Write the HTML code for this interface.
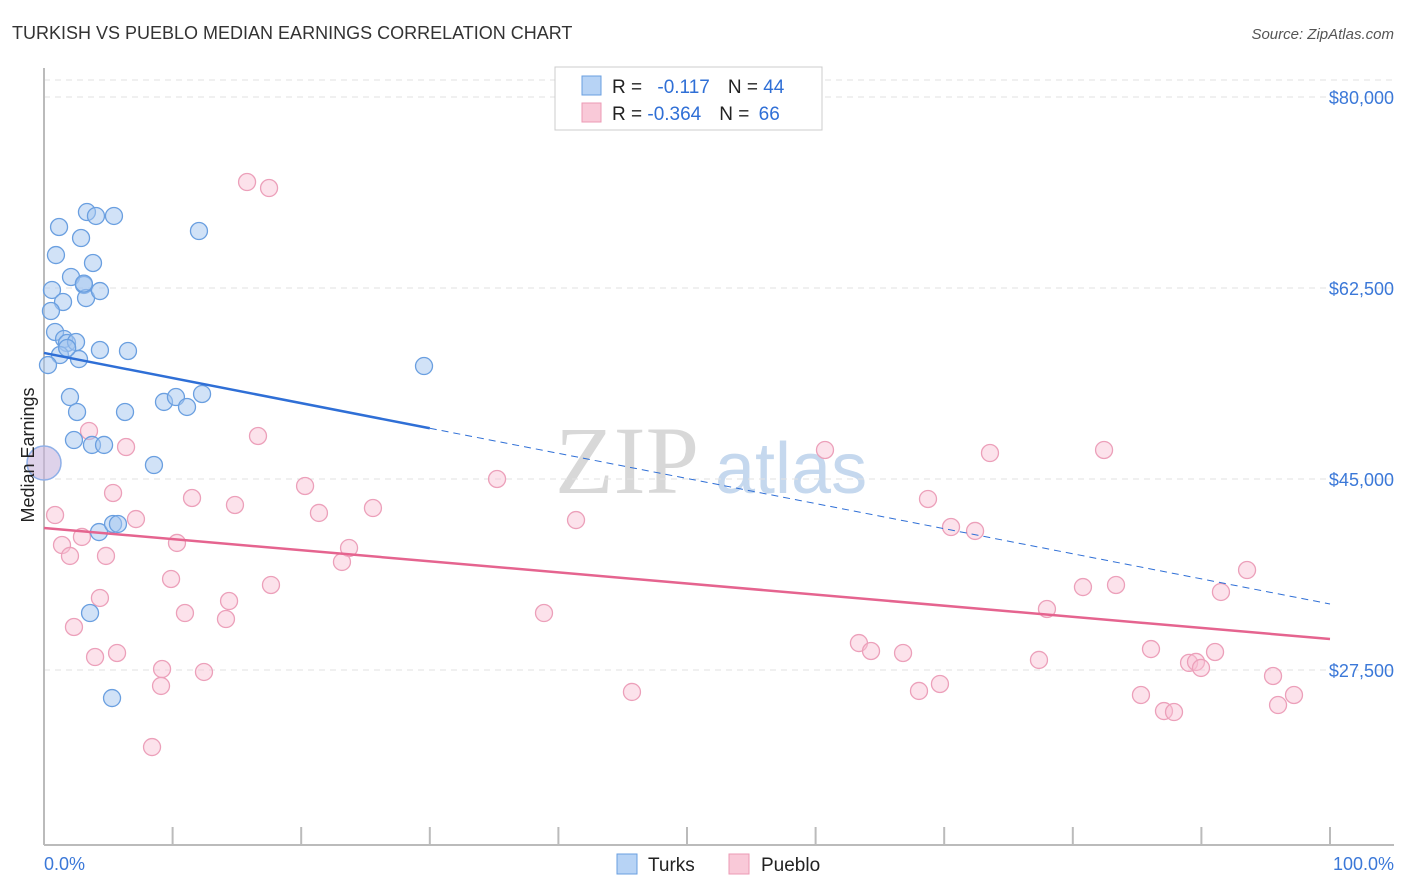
<!DOCTYPE html>
<html><head><meta charset="utf-8"><style>
body{margin:0;background:#fff;font-family:"Liberation Sans",sans-serif}
svg{display:block}
</style></head><body>
<svg id="c" width="1406" height="892">
<text x="12" y="39" font-size="18" fill="#333">TURKISH VS PUEBLO MEDIAN EARNINGS CORRELATION CHART</text>
<text x="1394" y="39" font-size="15" fill="#555" font-style="italic" text-anchor="end">Source: ZipAtlas.com</text>
<text x="555" y="493" font-size="96" fill="#d8d8d8" font-family="Liberation Serif,serif">ZIP</text>
<text x="715" y="493" font-size="72" fill="#c5d8ee">atlas</text>
<g id="grid"></g><g id="axes"></g><g id="marks"></g>
<text transform="translate(34,455) rotate(-90)" font-size="18" fill="#222" text-anchor="middle">Median Earnings</text>
<g>
<rect x="555" y="67" width="267" height="63" fill="#fff" stroke="#ccc"/>
<rect x="582" y="76" width="19" height="19" fill="#b7d3f5" stroke="#6a9fe0"/>
<rect x="582" y="103" width="19" height="19" fill="#f9c9d8" stroke="#ec9ab5"/>
<text x="612" y="93" font-size="19" fill="#222">R = <tspan fill="#2f6fd6" dx="10">-0.117</tspan><tspan dx="18">N = </tspan><tspan fill="#2f6fd6">44</tspan></text>
<text x="612" y="120" font-size="19" fill="#222">R = <tspan fill="#2f6fd6">-0.364</tspan><tspan dx="18">N = </tspan><tspan fill="#2f6fd6" dx="4">66</tspan></text>
</g>
<text x="44" y="870" font-size="18" fill="#3b78d8">0.0%</text>
<text x="1394" y="870" font-size="18" fill="#3b78d8" text-anchor="end">100.0%</text>
<g><rect x="617" y="854" width="20" height="20" fill="#b7d3f5" stroke="#6a9fe0"/><text x="648" y="871" font-size="19" fill="#222">Turks</text></g>
<g><rect x="729" y="854" width="20" height="20" fill="#f9c9d8" stroke="#ec9ab5"/><text x="761" y="871" font-size="19" fill="#222">Pueblo</text></g>
</svg>
<script>
const yTicks=[80000,62500,45000,27500];
const yTickLabels=["$80,000","$62,500","$45,000","$27,500"];
const turksX=[1.17,0.93,3.34,4.04,5.44,2.88,12.05,3.81,2.10,3.11,3.27,4.35,0.62,1.48,0.54,0.86,1.56,1.79,2.49,1.24,2.72,4.35,6.53,0.31,29.55,2.02,2.57,6.30,9.33,10.26,11.12,12.29,2.33,3.73,4.67,8.55,4.28,5.37,5.75,3.58,5.29,1.8,3.1];
const turksY=[68.09,65.52,69.46,69.10,69.10,67.08,67.72,64.79,63.51,62.78,61.58,62.22,62.32,61.22,60.39,58.47,57.83,57.46,57.55,56.36,55.99,56.82,56.73,55.44,55.35,52.51,51.14,51.14,52.06,52.51,51.60,52.79,48.57,48.12,48.12,46.28,40.14,40.88,40.88,32.72,24.93,57.0,62.9];
const puebloX=[15.79,17.50,6.38,3.50,16.64,60.73,73.56,82.43,5.37,11.51,20.30,35.23,14.85,21.38,25.58,68.74,0.86,7.15,41.37,70.53,72.40,1.40,2.95,2.02,4.82,10.34,23.72,23.17,93.55,9.88,17.65,80.79,83.36,91.52,4.35,14.39,10.96,38.88,14.15,77.99,2.33,63.37,64.31,66.80,3.97,5.68,86.08,91.06,9.18,12.44,77.37,89.04,89.58,89.97,95.57,9.10,45.72,68.04,69.67,85.30,95.96,87.09,87.87,97.20,8.40];
const puebloY=[72.21,71.66,47.93,49.40,48.94,47.66,47.38,47.66,43.72,43.26,44.36,45.00,42.62,41.89,42.34,43.17,41.70,41.33,41.24,40.60,40.24,38.95,39.69,37.95,37.95,39.14,38.68,37.40,36.66,35.84,35.29,35.10,35.29,34.65,34.10,33.82,32.72,32.72,32.17,33.09,31.44,29.97,29.24,29.06,28.69,29.06,29.42,29.15,27.59,27.32,28.42,28.15,28.24,27.69,26.95,26.04,25.49,25.58,26.22,25.21,24.29,23.74,23.65,25.21,20.44];
const bigX=[0],bigY=[46.47];
const turksTrend=[56.55,33.55], puebloTrend=[40.51,30.34], turksSolidEnd=30;
const NS="http://www.w3.org/2000/svg";
const sx=p=>44+p*12.86, sy=v=>97+(80-v)/17.5*191;
function mk(tag,attrs,parent){const e=document.createElementNS(NS,tag);for(const k in attrs)e.setAttribute(k,attrs[k]);document.getElementById(parent).appendChild(e);return e;}
let g=mk('line',{x1:44,x2:1394,y1:80,y2:80,stroke:'#e2e2e2','stroke-dasharray':'6,5'},'grid');


yTicks.forEach((t,i)=>{
 const y=sy(t/1000);
 const l=mk('line',{x1:44,x2:1394,y1:y,y2:y,stroke:'#e2e2e2','stroke-dasharray':'6,5'},'grid');
 
 
 const tx=mk('text',{x:1394,y:y+7,'font-size':18,fill:'#3b78d8','text-anchor':'end'},'grid');
 tx.textContent=yTickLabels[i];
 
 
});
let a=mk('line',{x1:44,x2:44,y1:68,y2:845,stroke:'#bbb','stroke-width':2},'axes');


a=mk('line',{x1:44,x2:1394,y1:845,y2:845,stroke:'#bbb','stroke-width':2},'axes');


for(let i=0;i<=10;i++){const x=sx(i*10);const t=mk('line',{x1:x,x2:x,y1:827,y2:845,stroke:'#bbb','stroke-width':2},'axes');
 
 }
puebloX.forEach((x,i)=>{const c=mk('circle',{cx:sx(x),cy:sy(puebloY[i]),r:8.5,fill:'rgba(248,190,210,0.45)',stroke:'#eca0ba','stroke-width':1.3},'marks');
 
 });
turksX.forEach((x,i)=>{const c=mk('circle',{cx:sx(x),cy:sy(turksY[i]),r:8.5,fill:'rgba(164,198,240,0.5)',stroke:'#6a9fe0','stroke-width':1.3},'marks');
 
 });
bigX.forEach((x,i)=>{const c=mk('circle',{cx:sx(x),cy:sy(bigY[i]),r:17,fill:'rgba(200,180,220,0.6)',stroke:'#8fb0e8','stroke-width':1.5},'marks');
 
 });
const ty=p=>turksTrend[0]+(turksTrend[1]-turksTrend[0])*p/100;
let l=mk('line',{x1:sx(0),y1:sy(ty(0)),x2:sx(turksSolidEnd),y2:sy(ty(turksSolidEnd)),stroke:'#2f6fd6','stroke-width':2.5},'marks');


l=mk('line',{x1:sx(turksSolidEnd),y1:sy(ty(turksSolidEnd)),x2:sx(100),y2:sy(ty(100)),stroke:'#2f6fd6','stroke-width':1,'stroke-dasharray':'7,5'},'marks');


l=mk('line',{x1:sx(0),y1:sy(puebloTrend[0]),x2:sx(100),y2:sy(puebloTrend[1]),stroke:'#e5648f','stroke-width':2.5},'marks');


</script>
</body></html>
